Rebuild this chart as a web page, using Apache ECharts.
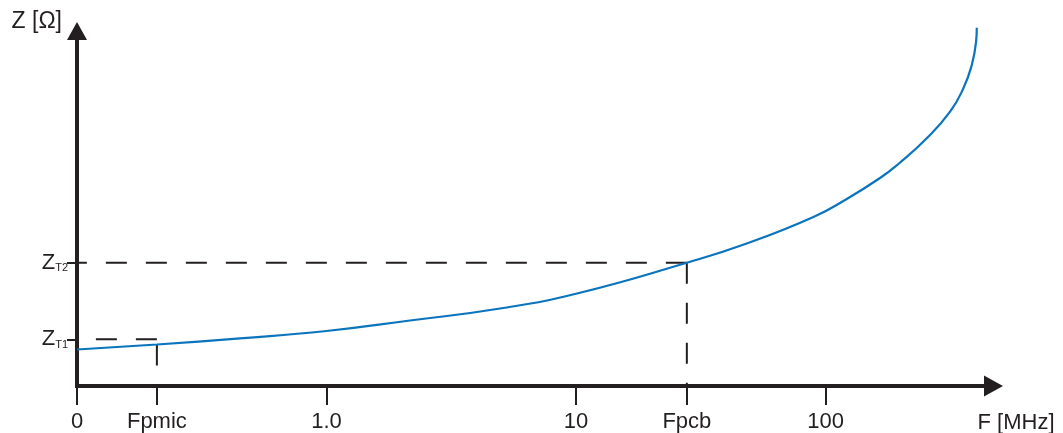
<!DOCTYPE html>
<html>
<head>
<meta charset="utf-8">
<script src="https://cdn.jsdelivr.net/npm/echarts@6/dist/echarts.min.js"></script>
<style>
  html, body { margin: 0; padding: 0; background: #ffffff; }
  #chart { width: 1063px; height: 433px; }
</style>
</head>
<body>
<div id="chart"></div>
<script>
// ---- data (frequency in MHz, impedance in arbitrary Ω units) ----
const xTickLabels = ['0', 'Fpmic', '1.0', '10', 'Fpcb', '100'];
const xTickMHz = [0.1, 0.209, 1, 10, 27.8, 100];
const xAxisMinMHz = 0.1;
const xAxisMaxMHz = 471;

const zTickSubs = ['T1', 'T2'];
const zTickValues = [13.15, 34.73];
const zAxisMax = 100;

const freqMHz = [0.1, 0.209, 0.45, 1.0, 2.16, 4.96, 10.09, 27.8, 48.3, 89.4, 121.6,
                 165.3, 195.8, 254.4, 315.5, 356.7, 385.5, 401.1, 403.7];
const impedance = [10.28, 11.69, 13.41, 15.49, 18.45, 21.83, 26.06, 34.73, 40.14, 47.61, 52.68,
                   58.59, 62.54, 69.77, 77.27, 83.86, 90.42, 96.99, 100.93];

const fpmic = 0.209;
const fpcb = 27.8;
const zAtFpmic = 11.69;
const zT1 = 13.15;
const zT2 = 34.73;

// ---- build ----
const lx = v => Math.log10(v);
const ink = '#231f20';
const font = "'Liberation Sans', Arial, Helvetica, sans-serif";

const curve = freqMHz.map((f, i) => [lx(f), impedance[i]]);
const dash = { color: ink, width: 2, type: [21, 19] };

function guide(points) {
  return {
    type: 'line', data: points.map(p => [lx(p[0]), p[1]]),
    symbol: 'none', silent: true, z: 1, clip: false,
    lineStyle: dash
  };
}

const xTickPos = xTickMHz.map(lx);

const chart = echarts.init(document.getElementById('chart'), null, { renderer: 'canvas' });
chart.setOption({
  animation: false,
  backgroundColor: '#ffffff',
  grid: { left: 77, right: 69.5, top: 31, bottom: 47, containLabel: false, outerBoundsMode: 'none' },
  xAxis: {
    type: 'value',
    min: lx(xAxisMinMHz),
    max: lx(xAxisMaxMHz),
    name: 'F [MHz]',
    nameLocation: 'end',
    nameGap: -16,
    nameTextStyle: { color: ink, fontSize: 22, fontFamily: font, align: 'left', verticalAlign: 'top', padding: [26, 0, 0, 0] },
    axisLine: { show: true, onZero: false, symbol: ['none', 'triangle'], symbolSize: [21, 19],
      lineStyle: { color: ink, width: 4, cap: 'square' } },
    axisTick: { show: true, length: 19, customValues: xTickPos, lineStyle: { color: ink, width: 2 } },
    axisLabel: {
      customValues: xTickPos, margin: 25, color: ink, fontSize: 22, fontFamily: font,
      formatter: function (v) {
        for (let i = 0; i < xTickPos.length; i++) if (Math.abs(xTickPos[i] - v) < 1e-6) return xTickLabels[i];
        return '';
      }
    },
    splitLine: { show: false }
  },
  yAxis: {
    type: 'value',
    min: 0,
    max: zAxisMax,
    name: 'Z [Ω]',
    nameLocation: 'end',
    nameGap: 9,
    nameTextStyle: { color: ink, fontSize: 23, fontFamily: font, align: 'right', verticalAlign: 'middle', padding: [0, 15, 0, 0] },
    axisLine: { show: true, onZero: false, symbol: ['none', 'triangle'], symbolSize: [20, 18],
      lineStyle: { color: ink, width: 4, cap: 'square' } },
    axisTick: { show: true, length: 10, customValues: zTickValues, lineStyle: { color: ink, width: 2 } },
    axisLabel: {
      customValues: zTickValues, margin: 9, color: ink, fontFamily: font,
      formatter: function (v) {
        for (let i = 0; i < zTickValues.length; i++) if (Math.abs(zTickValues[i] - v) < 1e-6) return '{z|Z}{s|' + zTickSubs[i] + '}';
        return '';
      },
      rich: {
        z: { fontSize: 22, fontFamily: font, color: ink, lineHeight: 22, verticalAlign: 'top', padding: [0, 0, 5, 0] },
        s: { fontSize: 11, fontFamily: font, color: ink, lineHeight: 11, verticalAlign: 'bottom' }
      }
    },
    splitLine: { show: false }
  },
  series: [
    guide([[fpcb, zT2], [xAxisMinMHz, zT2]]),
    guide([[fpcb, zT2], [fpcb, 0]]),
    guide([[fpmic, zT1], [xAxisMinMHz, zT1]]),
    guide([[fpmic, zAtFpmic], [fpmic, 0]]),
    {
      type: 'line', data: curve, smooth: 0.5, symbol: 'none', clip: false, z: 3,
      lineStyle: { color: '#0a74bd', width: 2.2 }
    }
  ]
});
</script>
</body>
</html>
